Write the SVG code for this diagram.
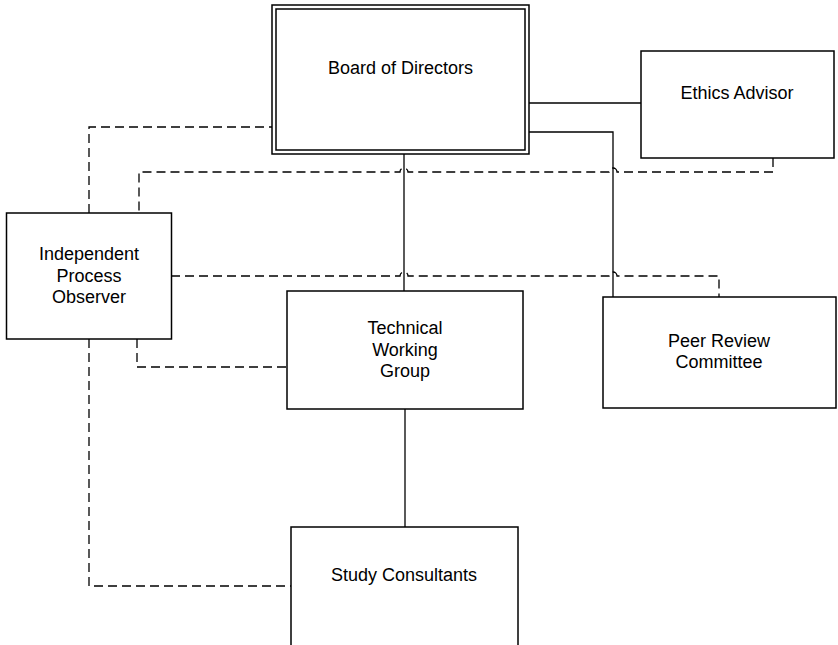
<svg xmlns="http://www.w3.org/2000/svg" width="838" height="645" viewBox="0 0 838 645">
<style>
.box{fill:#fff;stroke:#000;stroke-width:1.5}
.t{font-family:"Liberation Sans",Arial,sans-serif;font-size:18px;fill:#000;text-anchor:middle}
.solid{fill:none;stroke:#000;stroke-width:1.3}
.dash{fill:none;stroke:#000;stroke-width:1.3;stroke-dasharray:9,5}
</style>
<rect width="838" height="645" fill="#fff"/>
<g id="connectors">
<path class="solid" d="M529,103 H641"/>
<path class="solid" d="M529,132 H613 V297"/>
<path class="solid" d="M404,154 V291"/>
<path class="solid" d="M405,409 V527"/>
<path class="dash" d="M89,213 V127 H272"/>
<path class="dash" d="M773,158 V172 H617 A4,4 0 0 0 609,172 H408 A4,4 0 0 0 400,172 H139 V213"/>
<path class="dash" d="M171,276 H400 A4,4 0 0 1 408,276 H609 A4,4 0 0 1 617,276 H719 V297"/>
<path class="dash" d="M137,339 V367 H287"/>
<path class="dash" d="M89,339 V586 H291"/>
</g>
<g id="board">
<rect class="box" x="272" y="5" width="257" height="149"/>
<rect class="box" x="276" y="9" width="249" height="141"/>
<text class="t" x="400.5" y="74">Board of Directors</text>
</g>
<g id="ethics">
<rect class="box" x="641" y="51" width="193" height="107"/>
<text class="t" x="737" y="99">Ethics Advisor</text>
</g>
<g id="ipo">
<rect class="box" x="6.5" y="213" width="165" height="126"/>
<text class="t" x="89" y="260">Independent</text>
<text class="t" x="89" y="281.7">Process</text>
<text class="t" x="89" y="303.3">Observer</text>
</g>
<g id="twg">
<rect class="box" x="287" y="291" width="236" height="118"/>
<text class="t" x="405" y="334">Technical</text>
<text class="t" x="405" y="355.7">Working</text>
<text class="t" x="405" y="377.3">Group</text>
</g>
<g id="peer">
<rect class="box" x="603" y="297" width="233" height="111"/>
<text class="t" x="719" y="346.7">Peer Review</text>
<text class="t" x="719" y="368.3">Committee</text>
</g>
<g id="study">
<rect class="box" x="291" y="527" width="227" height="130"/>
<text class="t" x="404" y="581">Study Consultants</text>
</g>
</svg>
